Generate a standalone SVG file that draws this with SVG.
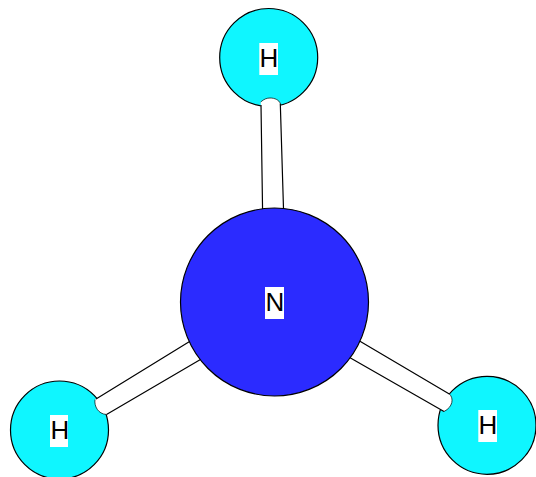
<svg xmlns="http://www.w3.org/2000/svg" width="536" height="477" viewBox="0 0 536 477">
<style>
.atom{stroke:#000;stroke-width:1.2}
.h{fill:#0ff6ff}
.n{fill:#2b2bff}
.bond{fill:#fff;stroke:none}
.cap{fill:none;stroke:#000;stroke-width:.7}
.edge{stroke:#000;stroke-width:1.2;fill:none}
.bg{fill:#fff}
.lbl{font-family:"Liberation Sans",Arial,sans-serif;font-size:26px;fill:#000;text-anchor:middle}
</style>
<rect width="536" height="477" fill="#fff"/>
<g id="atom-h1"><circle class="atom h" cx="268.700" cy="57.500" r="49"/></g>
<g id="atom-h2"><circle class="atom h" cx="59.500" cy="430" r="49"/></g>
<g id="atom-h3"><circle class="atom h" cx="487" cy="425.300" r="49"/></g>
<g id="connectors">
<path class="bond" d="M262.600 212L260.700 102C264 99 267 98 270 98C275 98 279 100 280.300 103.500L283.600 212Z"/>
<path class="cap" d="M260.700 102C264 99 267 98 270 98C275 98 279 100 280.300 103.500"/>
<path class="edge" d="M261 105L262.600 212M280.300 103.500L283.600 212"/>
<path class="bond" d="M192 340L95 399.500C94 406 98 414 106.500 414.500L203 358Z"/>
<path class="cap" d="M95 399.500C94 406 98 414 106.500 414.500"/>
<path class="edge" d="M96 399L192 340M106.500 414.500L203 358"/>
<path class="bond" d="M357 339.500L449.300 394C454 398 453 407 444 411.500L347 356Z"/>
<path class="cap" d="M449.300 394C454 398 453 407 444 411.500"/>
<path class="edge" d="M357 339.500L449.300 394M347 356L444 411.500"/>
</g>
<g id="atom-n"><circle class="atom n" cx="274.500" cy="302" r="94"/></g>
<g id="label-h1"><rect class="bg" x="259.300" y="43" width="18.700" height="32"/><text class="lbl" x="269" y="67">H</text></g>
<g id="label-h2"><rect class="bg" x="50" y="415" width="18" height="32"/><text class="lbl" x="60" y="439">H</text></g>
<g id="label-h3"><rect class="bg" x="478.300" y="410" width="18.700" height="32"/><text class="lbl" x="488" y="434">H</text></g>
<g id="label-n"><rect class="bg" x="265" y="287" width="19" height="32"/><text class="lbl" x="275" y="311">N</text></g>
</svg>
